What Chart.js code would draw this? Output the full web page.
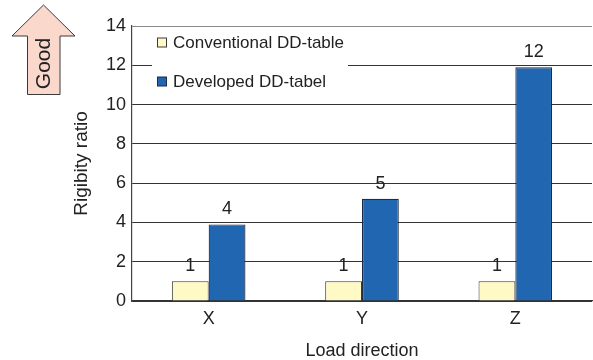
<!DOCTYPE html>
<html>
<head>
<meta charset="utf-8">
<script src="https://cdn.jsdelivr.net/npm/chart.js@4.4.1/dist/chart.umd.min.js"></script>
<style>
  html, body { margin: 0; padding: 0; background: #fff; }
  #wrap { width: 593px; height: 360px; position: relative; }
</style>
</head>
<body>
<div id="wrap"><canvas id="c" width="593" height="360"></canvas></div>
<script>
// Load directions and rigidity ratios for the two table designs
const categories = ['X', 'Y', 'Z'];
const seriesNames = ['Conventional DD-table', 'Developed DD-tabel'];
const conventional = [1.0, 1.0, 1.0];
const developed = [3.9, 5.2, 11.9];
const yTicks = [0, 2, 4, 6, 8, 10, 12, 14];

const FONT = "'Liberation Sans', Arial, Helvetica, sans-serif";
const TEXT = '#222';
const fills = ['#FFF9C6', '#2166B1'];
const edges = ['#3a3a3a', '#1d2b44'];

// Value labels above each bar
const valueLabels = {
  id: 'valueLabels',
  afterDatasetsDraw(chart) {
    const ctx = chart.ctx;
    ctx.save();
    ctx.font = '18px ' + FONT;
    ctx.fillStyle = TEXT;
    ctx.textAlign = 'center';
    ctx.textBaseline = 'alphabetic';
    chart.data.datasets.forEach((ds, i) => {
      chart.getDatasetMeta(i).data.forEach((bar, j) => {
        ctx.fillText(String(Math.round(ds.data[j])), bar.x, bar.y - 10);
      });
    });
    ctx.restore();
  }
};

// Legend box drawn inside the plot, over the gridlines
const insideLegend = {
  id: 'insideLegend',
  afterDatasetsDraw(chart) {
    const ctx = chart.ctx;
    ctx.save();
    ctx.fillStyle = '#fff';
    ctx.fillRect(152, 30, 196, 66);
    ctx.font = '17px ' + FONT;
    ctx.textBaseline = 'middle';
    chart.data.datasets.forEach((ds, i) => {
      const y = 42.5 + i * 39;
      ctx.fillStyle = ds.backgroundColor;
      ctx.fillRect(157.5, y - 4.5, 9, 9);
      ctx.strokeStyle = ds.borderColor;
      ctx.lineWidth = 1;
      ctx.strokeRect(157.5, y - 4.5, 9, 9);
      ctx.fillStyle = TEXT;
      ctx.fillText(ds.label, 173, y + 0.5);
    });
    ctx.restore();
  }
};

// "Good" arrow pointing up, at the top-left corner
const goodArrow = {
  id: 'goodArrow',
  afterDraw(chart) {
    const ctx = chart.ctx;
    ctx.save();
    ctx.beginPath();
    ctx.moveTo(43.5, 5);
    ctx.lineTo(75, 36);
    ctx.lineTo(60, 36);
    ctx.lineTo(60, 94.5);
    ctx.lineTo(27.5, 94.5);
    ctx.lineTo(27.5, 36);
    ctx.lineTo(12, 36);
    ctx.closePath();
    ctx.fillStyle = '#FAD9CC';
    ctx.fill();
    ctx.strokeStyle = '#3a3a3a';
    ctx.lineWidth = 1;
    ctx.stroke();
    ctx.translate(44, 63.5);
    ctx.rotate(-Math.PI / 2);
    ctx.font = '21px ' + FONT;
    ctx.fillStyle = TEXT;
    ctx.textAlign = 'center';
    ctx.textBaseline = 'middle';
    ctx.fillText('Good', 0, 0);
    ctx.restore();
  }
};

new Chart(document.getElementById('c'), {
  type: 'bar',
  data: {
    labels: categories,
    datasets: [
      { label: seriesNames[0], data: conventional, backgroundColor: fills[0], borderColor: edges[0], borderWidth: 1 },
      { label: seriesNames[1], data: developed, backgroundColor: fills[1], borderColor: edges[1], borderWidth: 1.2 }
    ]
  },
  options: {
    responsive: false,
    animation: false,
    devicePixelRatio: 1,
    layout: { padding: { left: 72, top: 26, right: 1, bottom: 0 } },
    datasets: { bar: { categoryPercentage: 0.48, barPercentage: 1.0 } },
    plugins: { legend: { display: false }, tooltip: { enabled: false } },
    scales: {
      x: {
        grid: { display: false, drawTicks: false },
        border: { display: true, color: '#333', width: 1.2 },
        ticks: { color: TEXT, font: { family: FONT, size: 18 }, padding: 7 },
        title: { display: true, text: 'Load direction', color: TEXT, font: { family: FONT, size: 18, lineHeight: 1 }, padding: { top: 0, bottom: 0 } },
        afterFit(s) { s.height = 59; }
      },
      y: {
        min: 0,
        max: 14,
        afterBuildTicks(s) { s.ticks = yTicks.map(v => ({ value: v })); },
        grid: {
          drawTicks: false,
          color: ctx => (ctx.tick && ctx.tick.value === 14 ? '#8a8a8a' : '#333'),
          lineWidth: 1
        },
        border: { display: true, color: '#444', width: 1.2 },
        ticks: { color: TEXT, font: { family: FONT, size: 18 }, padding: 6 },
        title: { display: true, text: 'Rigibity ratio', color: TEXT, font: { family: FONT, size: 19, lineHeight: 1 }, padding: { top: 0, bottom: 0 } },
        afterFit(s) { s.width = 60; }
      }
    }
  },
  plugins: [valueLabels, insideLegend, goodArrow]
});
</script>
</body>
</html>
